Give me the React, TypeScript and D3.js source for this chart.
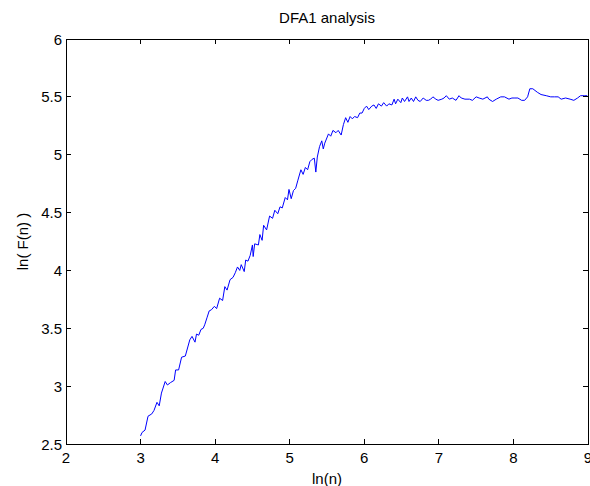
import React from "react";
import * as d3 from "d3";

const title = "DFA1 analysis";
const xLabel = "ln(n)";
const yLabel = "ln( F(n) )";
const xTicks = [2, 3, 4, 5, 6, 7, 8, 9];
const yTicks = [2.5, 3, 3.5, 4, 4.5, 5, 5.5, 6];

const lnN = [
  3.00, 3.02, 3.06, 3.10, 3.15, 3.18, 3.22, 3.25, 3.28, 3.33, 3.36, 3.40, 3.45, 3.47, 3.51, 3.55, 3.60, 3.66, 3.69, 3.73,
  3.75, 3.78, 3.81, 3.84, 3.86, 3.89, 3.92, 3.95, 3.99, 4.02, 4.06, 4.10, 4.13, 4.16, 4.20, 4.24, 4.27, 4.30, 4.33, 4.35,
  4.39, 4.41, 4.44, 4.47, 4.50, 4.51, 4.53, 4.58, 4.60, 4.63, 4.65, 4.69, 4.73, 4.77, 4.80, 4.84, 4.87, 4.90, 4.94, 4.97,
  4.99, 5.02, 5.05, 5.08, 5.11, 5.15, 5.18, 5.21, 5.24, 5.27, 5.30, 5.33, 5.35, 5.37, 5.40, 5.43, 5.45, 5.47, 5.52, 5.55,
  5.58, 5.62, 5.65, 5.69, 5.72, 5.75, 5.78, 5.81, 5.84, 5.87, 5.91, 5.94, 5.97, 6.00, 6.03, 6.06, 6.10, 6.13, 6.16, 6.19,
  6.23, 6.26, 6.30, 6.33, 6.37, 6.40, 6.42, 6.45, 6.49, 6.51, 6.54, 6.58, 6.60, 6.63, 6.66, 6.69, 6.72, 6.75, 6.79, 6.83,
  6.86, 6.89, 6.92, 6.96, 6.99, 7.04, 7.07, 7.10, 7.14, 7.18, 7.23, 7.27, 7.30, 7.35, 7.41, 7.45, 7.50, 7.54, 7.59, 7.65,
  7.67, 7.72, 7.77, 7.83, 7.88, 7.94, 7.98, 8.02, 8.06, 8.11, 8.15, 8.19, 8.22, 8.26, 8.32, 8.37, 8.44, 8.50, 8.55, 8.60,
  8.64, 8.70, 8.76, 8.81, 8.86, 8.90, 8.95, 8.99,
];
const lnF = [
  2.57, 2.60, 2.62, 2.74, 2.76, 2.79, 2.86, 2.83, 2.94, 3.04, 3.01, 3.03, 3.05, 3.14, 3.14, 3.25, 3.26, 3.40, 3.43, 3.38,
  3.45, 3.44, 3.49, 3.50, 3.53, 3.59, 3.65, 3.66, 3.69, 3.67, 3.76, 3.74, 3.86, 3.83, 3.92, 3.94, 3.98, 4.03, 4.00, 4.05,
  3.99, 4.09, 4.08, 4.13, 4.22, 4.12, 4.23, 4.22, 4.31, 4.26, 4.39, 4.35, 4.47, 4.45, 4.52, 4.49, 4.55, 4.54, 4.63, 4.61,
  4.70, 4.62, 4.69, 4.71, 4.78, 4.87, 4.83, 4.89, 4.87, 4.94, 4.96, 4.97, 4.85, 4.98, 5.07, 5.12, 5.05, 5.10, 5.18, 5.16,
  5.21, 5.19, 5.21, 5.17, 5.26, 5.32, 5.28, 5.33, 5.31, 5.33, 5.32, 5.36, 5.36, 5.40, 5.42, 5.39, 5.42, 5.43, 5.40, 5.44,
  5.42, 5.45, 5.42, 5.44, 5.43, 5.48, 5.44, 5.48, 5.45, 5.49, 5.46, 5.50, 5.46, 5.49, 5.46, 5.50, 5.47, 5.46, 5.49, 5.47,
  5.47, 5.48, 5.50, 5.48, 5.47, 5.48, 5.49, 5.51, 5.48, 5.49, 5.47, 5.51, 5.49, 5.48, 5.48, 5.47, 5.50, 5.49, 5.48, 5.50,
  5.48, 5.46, 5.48, 5.50, 5.50, 5.48, 5.49, 5.49, 5.49, 5.47, 5.47, 5.50, 5.57, 5.57, 5.54, 5.52, 5.51, 5.50, 5.50, 5.50,
  5.48, 5.49, 5.48, 5.47, 5.49, 5.51, 5.51, 5.51,
];

const W = 590;
const H = 486;
const M = { left: 66, right: 588, top: 39, bottom: 444 };
const FONT = "Arial, 'Liberation Sans', Helvetica, sans-serif";
const FS = 15;

export default function App() {
  const x = d3.scaleLinear().domain([2, 9]).range([M.left, M.right]);
  const y = d3.scaleLinear().domain([2.5, 6]).range([M.bottom, M.top]);
  const pts = lnN.map((v, i) => [v, lnF[i]] as [number, number]);
  const line = d3
    .line<[number, number]>()
    .x((d) => x(d[0]))
    .y((d) => y(d[1]));
  const tl = 5;
  return (
    <svg
      width={W}
      height={H}
      style={{ position: "absolute", left: 0, top: 0, background: "#fff" }}
      fontFamily={FONT}
    >
      <rect x={0} y={0} width={W} height={H} fill="#fff" />
      <path d={line(pts) || ""} fill="none" stroke="#0000ff" strokeWidth={1} />
      <rect
        x={M.left}
        y={M.top}
        width={M.right - M.left}
        height={M.bottom - M.top}
        fill="none"
        stroke="#000"
        strokeWidth={1}
        shapeRendering="crispEdges"
      />
      {xTicks.map((t) => (
        <g key={"x" + t}>
          <line x1={x(t)} x2={x(t)} y1={M.bottom} y2={M.bottom - tl} stroke="#000" shapeRendering="crispEdges" />
          <line x1={x(t)} x2={x(t)} y1={M.top} y2={M.top + tl} stroke="#000" shapeRendering="crispEdges" />
          <text x={x(t)} y={M.bottom + 19} fontSize={FS} textAnchor="middle" fill="#000">
            {t}
          </text>
        </g>
      ))}
      {yTicks.map((t) => (
        <g key={"y" + t}>
          <line x1={M.left} x2={M.left + tl} y1={y(t)} y2={y(t)} stroke="#000" shapeRendering="crispEdges" />
          <line x1={M.right} x2={M.right - tl} y1={y(t)} y2={y(t)} stroke="#000" shapeRendering="crispEdges" />
          <text x={M.left - 4} y={y(t) + 5.5} fontSize={FS} textAnchor="end" fill="#000">
            {t}
          </text>
        </g>
      ))}
      <text x={(M.left + M.right) / 2} y={23} fontSize={FS} textAnchor="middle" fill="#000">
        {title}
      </text>
      <text x={(M.left + M.right) / 2} y={484} fontSize={FS} textAnchor="middle" fill="#000">
        {xLabel}
      </text>
      <text
        transform={`translate(28, ${(M.top + M.bottom) / 2}) rotate(-90)`}
        fontSize={FS}
        textAnchor="middle"
        fill="#000"
      >
        {yLabel}
      </text>
    </svg>
  );
}
